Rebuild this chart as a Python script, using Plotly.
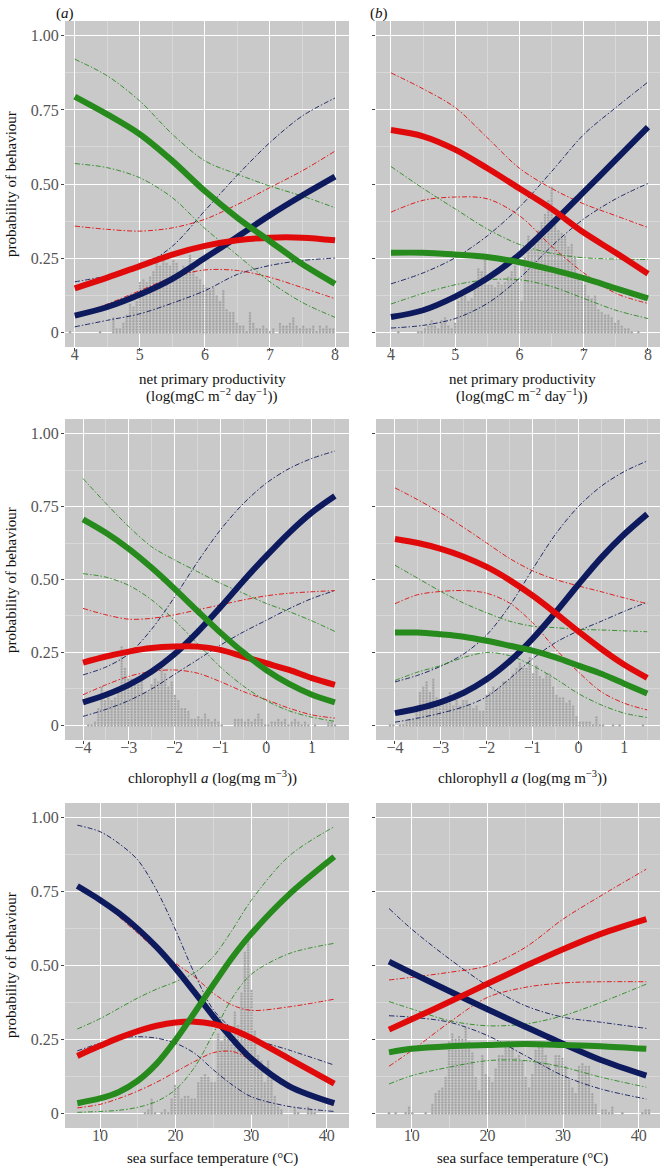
import plotly.graph_objects as go

W, H = 662, 1170

# ------------------------------------------------------------------ data
npp_x = [4, 4.5, 5, 5.5, 6, 6.5, 7, 7.5, 8]
chl_x = [-4, -3.5, -3, -2.5, -2, -1.5, -1, -0.5, 0, 0.5, 1, 1.5]
sst_a_x = [7, 10, 12.5, 15, 17.5, 20, 22.5, 25, 27.5, 30, 35, 41]
sst_b_x = [7, 10, 15, 20, 25, 30, 35, 41]

# panel (a), net primary productivity
a1_blue = [0.056, 0.085, 0.127, 0.18, 0.25, 0.322, 0.395, 0.462, 0.525]
a1_blue_hi = [0.17, 0.19, 0.22, 0.29, 0.41, 0.53, 0.64, 0.73, 0.79]
a1_blue_lo = [0.018, 0.04, 0.062, 0.098, 0.14, 0.195, 0.225, 0.242, 0.25]
a1_red = [0.148, 0.184, 0.223, 0.262, 0.291, 0.31, 0.319, 0.319, 0.31]
a1_red_hi = [0.358, 0.347, 0.341, 0.352, 0.381, 0.431, 0.488, 0.545, 0.611]
a1_red_lo = [0.055, 0.095, 0.14, 0.185, 0.21, 0.208, 0.185, 0.15, 0.113]
a1_green = [0.795, 0.735, 0.668, 0.578, 0.476, 0.386, 0.307, 0.229, 0.163]
a1_green_hi = [0.921, 0.865, 0.78, 0.668, 0.578, 0.533, 0.493, 0.459, 0.42]
a1_green_lo = [0.569, 0.555, 0.521, 0.454, 0.35, 0.26, 0.17, 0.1, 0.05]

# panel (b), net primary productivity
b1_blue = [0.051, 0.074, 0.12, 0.182, 0.262, 0.365, 0.473, 0.582, 0.692]
b1_blue_hi = [0.163, 0.2, 0.251, 0.325, 0.422, 0.542, 0.667, 0.758, 0.844]
b1_blue_lo = [0.014, 0.023, 0.046, 0.097, 0.182, 0.29, 0.382, 0.45, 0.502]
b1_red = [0.682, 0.661, 0.616, 0.553, 0.485, 0.416, 0.336, 0.268, 0.197]
b1_red_hi = [0.875, 0.821, 0.758, 0.656, 0.553, 0.485, 0.433, 0.393, 0.353]
b1_red_lo = [0.405, 0.445, 0.456, 0.45, 0.393, 0.29, 0.2, 0.131, 0.097]
b1_green = [0.268, 0.268, 0.262, 0.254, 0.236, 0.211, 0.182, 0.148, 0.114]
b1_green_hi = [0.559, 0.485, 0.416, 0.348, 0.296, 0.266, 0.251, 0.247, 0.245]
b1_green_lo = [0.095, 0.131, 0.16, 0.177, 0.177, 0.154, 0.114, 0.074, 0.046]

# panel (a), chlorophyll a
a2_blue = [0.079, 0.105, 0.139, 0.185, 0.245, 0.32, 0.405, 0.495, 0.58, 0.66, 0.73, 0.786]
a2_blue_hi = [0.173, 0.2, 0.245, 0.33, 0.44, 0.56, 0.67, 0.76, 0.83, 0.88, 0.915, 0.94]
a2_blue_lo = [0.031, 0.055, 0.085, 0.125, 0.175, 0.225, 0.275, 0.32, 0.36, 0.4, 0.435, 0.462]
a2_red = [0.215, 0.236, 0.253, 0.265, 0.27, 0.27, 0.259, 0.236, 0.213, 0.19, 0.162, 0.139]
a2_red_hi = [0.401, 0.379, 0.364, 0.367, 0.379, 0.396, 0.413, 0.43, 0.444, 0.453, 0.458, 0.462]
a2_red_lo = [0.105, 0.139, 0.168, 0.185, 0.19, 0.179, 0.15, 0.116, 0.088, 0.059, 0.036, 0.025]
a2_green = [0.706, 0.66, 0.605, 0.54, 0.468, 0.392, 0.318, 0.25, 0.19, 0.142, 0.105, 0.079]
a2_green_hi = [0.846, 0.761, 0.681, 0.612, 0.567, 0.527, 0.487, 0.453, 0.418, 0.39, 0.358, 0.322]
a2_green_lo = [0.52, 0.508, 0.48, 0.43, 0.36, 0.28, 0.2, 0.135, 0.085, 0.05, 0.028, 0.014]

# panel (b), chlorophyll a
b2_blue = [0.042, 0.058, 0.08, 0.112, 0.158, 0.22, 0.297, 0.387, 0.483, 0.575, 0.655, 0.724]
b2_blue_hi = [0.149, 0.172, 0.203, 0.245, 0.31, 0.41, 0.535, 0.655, 0.75, 0.82, 0.87, 0.906]
b2_blue_lo = [0.011, 0.025, 0.042, 0.064, 0.098, 0.16, 0.228, 0.284, 0.324, 0.357, 0.391, 0.422]
b2_red = [0.639, 0.625, 0.605, 0.578, 0.543, 0.498, 0.445, 0.385, 0.322, 0.262, 0.208, 0.163]
b2_red_hi = [0.814, 0.773, 0.728, 0.678, 0.625, 0.572, 0.53, 0.5, 0.478, 0.458, 0.437, 0.417]
b2_red_lo = [0.417, 0.448, 0.459, 0.462, 0.453, 0.419, 0.352, 0.262, 0.183, 0.115, 0.076, 0.053]
b2_green = [0.318, 0.318, 0.312, 0.304, 0.29, 0.273, 0.256, 0.233, 0.205, 0.177, 0.143, 0.109]
b2_green_hi = [0.549, 0.504, 0.459, 0.419, 0.386, 0.357, 0.34, 0.335, 0.329, 0.327, 0.324, 0.321]
b2_green_lo = [0.154, 0.183, 0.205, 0.233, 0.25, 0.239, 0.205, 0.16, 0.109, 0.07, 0.042, 0.027]

# panel (a), sea surface temperature
a3_blue = [0.769, 0.722, 0.677, 0.624, 0.562, 0.49, 0.41, 0.328, 0.252, 0.185, 0.092, 0.034]
a3_blue_hi = [0.975, 0.953, 0.913, 0.857, 0.755, 0.62, 0.473, 0.35, 0.287, 0.254, 0.214, 0.163]
a3_blue_lo = [0.211, 0.237, 0.254, 0.259, 0.254, 0.237, 0.203, 0.147, 0.096, 0.056, 0.023, 0.006]
a3_red = [0.194, 0.228, 0.255, 0.278, 0.296, 0.307, 0.31, 0.302, 0.283, 0.255, 0.185, 0.10]
a3_red_hi = [0.769, 0.722, 0.665, 0.609, 0.552, 0.507, 0.462, 0.406, 0.366, 0.348, 0.36, 0.386]
a3_red_lo = [0.018, 0.03, 0.05, 0.075, 0.105, 0.14, 0.175, 0.205, 0.209, 0.18, 0.101, 0.023]
a3_green = [0.034, 0.05, 0.072, 0.11, 0.168, 0.248, 0.34, 0.435, 0.527, 0.607, 0.74, 0.868]
a3_green_hi = [0.285, 0.32, 0.355, 0.39, 0.42, 0.445, 0.475, 0.53, 0.62, 0.72, 0.87, 0.97]
a3_green_lo = [0.003, 0.006, 0.01, 0.02, 0.04, 0.08, 0.155, 0.27, 0.39, 0.47, 0.54, 0.575]

# panel (b), sea surface temperature
b3_blue = [0.513, 0.475, 0.413, 0.352, 0.293, 0.235, 0.18, 0.127]
b3_blue_hi = [0.693, 0.623, 0.522, 0.432, 0.364, 0.325, 0.308, 0.287]
b3_blue_lo = [0.33, 0.325, 0.308, 0.263, 0.195, 0.127, 0.082, 0.048]
b3_red = [0.283, 0.318, 0.377, 0.438, 0.498, 0.555, 0.607, 0.657]
b3_red_hi = [0.451, 0.46, 0.477, 0.499, 0.561, 0.657, 0.736, 0.826]
b3_red_lo = [0.159, 0.212, 0.308, 0.392, 0.426, 0.441, 0.445, 0.445]
b3_green = [0.206, 0.218, 0.227, 0.231, 0.234, 0.231, 0.227, 0.218]
b3_green_hi = [0.378, 0.353, 0.313, 0.296, 0.302, 0.33, 0.375, 0.437]
b3_green_lo = [0.099, 0.127, 0.156, 0.178, 0.178, 0.156, 0.122, 0.088]

# stacked-dot histograms: first bin centre, bin width, dots per bin
a1_dot_start, a1_dot_step = 3.928, 0.0512
a1_dot_counts = [1, 0, 0, 0, 0, 0, 0, 0, 0, 1, 0, 0, 0,
                 6, 2, 2, 4, 7, 11, 10, 12, 19, 20, 19, 21, 23, 28, 25, 29, 26, 25, 27, 26,
                 22, 25, 22, 29, 24, 21, 20, 18, 17, 16, 17, 14, 12, 16, 9, 8, 8, 4, 3, 3,
                 1, 8, 4, 2, 2, 3, 2, 1, 2, 0, 4, 3, 3, 4, 6, 3, 2, 3, 2, 2, 3, 1, 3, 2, 3, 2, 2]
b1_dot_start, b1_dot_step = 4.114, 0.0519
b1_dot_counts = [1, 0, 0, 0, 0, 0, 1, 1, 2, 3, 5, 3, 2, 5, 6, 3, 2, 4, 12, 14, 14, 12, 13,
                 17, 24, 23, 27, 18, 18, 17, 19, 18, 19, 21, 23, 25, 19, 12, 28, 36, 31, 35,
                 38, 41, 44, 49, 54, 43, 38, 37, 36, 32, 33, 28, 22, 19, 18, 14, 13, 14, 9,
                 8, 7, 7, 6, 4, 5, 3, 2, 2, 1, 0, 1]
a2_dot_start, a2_dot_step = -3.884, 0.0728
a2_dot_counts = [1, 1, 2, 7, 15, 10, 11, 10, 11, 15, 30, 22, 18, 18, 17, 16, 17, 13, 13, 16,
                 18, 17, 23, 20, 15, 17, 12, 10, 7, 7, 6, 3, 3, 4, 3, 5, 3, 2, 3, 2, 1, 0, 0,
                 0, 3, 3, 3, 2, 3, 2, 3, 5, 3, 1, 1, 2, 2, 3, 2, 3, 1, 2, 3, 2, 1, 2, 1, 0, 1,
                 0, 0, 0, 2, 2, 1]
b2_dot_start, b2_dot_step = -4.109, 0.0726
b2_dot_counts = [1, 1, 0, 1, 1, 2, 3, 3, 6, 13, 15, 17, 13, 18, 11, 9, 10, 11, 13, 8, 10, 8,
                 10, 10, 8, 7, 8, 6, 6, 12, 13, 15, 14, 15, 17, 17, 18, 20, 22, 24, 22, 22,
                 26, 20, 23, 19, 18, 20, 20, 15, 12, 11, 11, 9, 10, 8, 4, 2, 2, 2, 2, 1, 4,
                 1, 1, 0, 0, 1, 0, 1, 0, 0, 0, 0, 0, 0, 1]
a3_dot_start, a3_dot_step = 15.95, 0.4405
a3_dot_counts = [1, 2, 6, 1, 0, 1, 2, 1, 6, 11, 10, 6, 7, 7, 6, 6, 12, 14, 15, 14, 12, 12,
                 30, 27, 29, 28, 26, 38, 33, 45, 60, 64, 46, 31, 22, 20, 12, 20, 13, 7, 3, 2,
                 0, 0, 0, 3, 1, 0, 0, 3, 2, 1]
b3_dot_start, b3_dot_step = 7.0, 0.4405
b3_dot_counts = [1, 0, 1, 0, 0, 1, 3, 1, 0, 0, 0, 1, 0, 4, 8, 9, 10, 14, 27, 30, 28, 29, 28,
                 32, 27, 23, 14, 9, 22, 15, 14, 12, 17, 22, 22, 25, 27, 25, 21, 22, 20, 14,
                 10, 15, 24, 25, 25, 22, 19, 16, 22, 22, 21, 18, 13, 10, 8, 18, 19, 18, 18,
                 8, 4, 0, 2, 2, 1, 3, 0, 0, 1, 0, 0, 0, 0, 0, 1, 2, 2]
dot_unit = 0.0092  # probability height of one stacked dot

x_tick_vals = {
    'npp': [4, 5, 6, 7, 8],
    'chl': [-4, -3, -2, -1, 0, 1],
    'sst': [10, 20, 30, 40],
}
x_tick_text = {
    'npp': ['4', '5', '6', '7', '8'],
    'chl': ['\u22124', '\u22123', '\u22122', '\u22121', '0', '1'],
    'sst': ['10', '20', '30', '40'],
}
x_minor_vals = {
    'npp': [3.5, 4.5, 5.5, 6.5, 7.5],
    'chl': [-4.5, -3.5, -2.5, -1.5, -0.5, 0.5, 1.5],
    'sst': [5, 15, 25, 35],
}
y_tick_vals = [0, 0.25, 0.5, 0.75, 1.0]
y_tick_text = ['0', '0.25', '0.50', '0.75', '1.00']
y_minor_vals = [0.125, 0.375, 0.625, 0.875]

# ------------------------------------------------------------------ style
NAVY = '#0e1a5e'
RED = '#e10a0a'
GREEN = '#268a1c'
BG = '#c9c9c9'
DOT = '#a5a5a5'
FONT = 'Liberation Serif'
CI_DASH = '5px,2px,1.5px,2px'

panels = [
    dict(kind='npp', x=npp_x, box=(65, 349, 21, 347), xr=(3.85, 8.215), left=True,
         blue=(a1_blue, a1_blue_lo, a1_blue_hi), red=(a1_red, a1_red_lo, a1_red_hi),
         green=(a1_green, a1_green_lo, a1_green_hi),
         dots=(a1_dot_start, a1_dot_step, a1_dot_counts)),
    dict(kind='npp', x=npp_x, box=(376, 660, 21, 347), xr=(3.767, 8.187), left=False,
         blue=(b1_blue, b1_blue_lo, b1_blue_hi), red=(b1_red, b1_red_lo, b1_red_hi),
         green=(b1_green, b1_green_lo, b1_green_hi),
         dots=(b1_dot_start, b1_dot_step, b1_dot_counts)),
    dict(kind='chl', x=chl_x, box=(65, 349, 419, 740), xr=(-4.393, 1.808), left=True,
         blue=(a2_blue, a2_blue_lo, a2_blue_hi), red=(a2_red, a2_red_lo, a2_red_hi),
         green=(a2_green, a2_green_lo, a2_green_hi),
         dots=(a2_dot_start, a2_dot_step, a2_dot_counts)),
    dict(kind='chl', x=chl_x, box=(376, 660, 419, 740), xr=(-4.414, 1.779), left=False,
         blue=(b2_blue, b2_blue_lo, b2_blue_hi), red=(b2_red, b2_red_lo, b2_red_hi),
         green=(b2_green, b2_green_lo, b2_green_hi),
         dots=(b2_dot_start, b2_dot_step, b2_dot_counts)),
    dict(kind='sst', x=sst_a_x, box=(65, 349, 803, 1128), xr=(5.369, 42.95), left=True,
         blue=(a3_blue, a3_blue_lo, a3_blue_hi), red=(a3_red, a3_red_lo, a3_red_hi),
         green=(a3_green, a3_green_lo, a3_green_hi),
         dots=(a3_dot_start, a3_dot_step, a3_dot_counts)),
    dict(kind='sst', x=sst_b_x, box=(376, 660, 803, 1128), xr=(5.282, 42.81), left=False,
         blue=(b3_blue, b3_blue_lo, b3_blue_hi), red=(b3_red, b3_red_lo, b3_red_hi),
         green=(b3_green, b3_green_lo, b3_green_hi),
         dots=(b3_dot_start, b3_dot_step, b3_dot_counts)),
]

fig = go.Figure()
layout = dict(
    width=W, height=H, margin=dict(l=0, r=0, t=0, b=0),
    paper_bgcolor='white', plot_bgcolor=BG, showlegend=False,
    font=dict(family=FONT, size=15, color='#111111'),
)

for i, p in enumerate(panels):
    n = '' if i == 0 else str(i + 1)
    xa, ya = 'x' + n, 'y' + n
    l, r, t, b = p['box']

    # stacked dots
    s0, st, counts = p['dots']
    dx, dy = [], []
    for j, c in enumerate(counts):
        for k in range(c):
            dx.append(s0 + j * st)
            dy.append(k * dot_unit)
    fig.add_trace(go.Scatter(x=dx, y=dy, mode='markers', xaxis=xa, yaxis=ya,
                             marker=dict(color=DOT, size=2.4, line=dict(width=0)),
                             hoverinfo='skip'))

    # confidence bands (dot-dash)
    for key, col in (('blue', NAVY), ('red', RED), ('green', GREEN)):
        mean, lo, hi = p[key]
        for arr in (lo, hi):
            fig.add_trace(go.Scatter(x=p['x'], y=arr, mode='lines', xaxis=xa, yaxis=ya,
                                     line=dict(color=col, width=0.9, dash=CI_DASH,
                                               shape='spline', smoothing=0.9),
                                     hoverinfo='skip'))
    # fitted curves
    for key, col in (('blue', NAVY), ('red', RED), ('green', GREEN)):
        mean = p[key][0]
        fig.add_trace(go.Scatter(x=p['x'], y=mean, mode='lines', xaxis=xa, yaxis=ya,
                                 line=dict(color=col, width=6, shape='spline', smoothing=0.9),
                                 hoverinfo='skip'))

    k = p['kind']
    layout['xaxis' + n] = dict(
        domain=[l / W, r / W], anchor=ya, range=list(p['xr']),
        tickvals=x_tick_vals[k], ticktext=x_tick_text[k],
        showgrid=True, gridcolor='white', gridwidth=1.2, zeroline=False,
        ticks='outside', ticklen=3, tickwidth=0.8, tickcolor='#444444',
        ticklabelstandoff=-10,
        tickfont=dict(family=FONT, size=16, color='#555555'),
        showline=False,
        minor=dict(tickvals=x_minor_vals[k], showgrid=True, gridcolor='#d8d8d8',
                   gridwidth=0.6, ticks=''),
    )
    layout['yaxis' + n] = dict(
        domain=[1 - b / H, 1 - t / H], anchor=xa, range=[-0.05, 1.05],
        tickvals=y_tick_vals, ticktext=y_tick_text, showticklabels=p['left'],
        showgrid=True, gridcolor='white', gridwidth=1.2, zeroline=False,
        ticks='outside', ticklen=3, tickwidth=0.8, tickcolor='#444444',
        ticklabelstandoff=-1,
        tickfont=dict(family=FONT, size=16, color='#555555'),
        showline=False,
        minor=dict(tickvals=y_minor_vals, showgrid=True, gridcolor='#d8d8d8',
                   gridwidth=0.6, ticks=''),
    )

fig.update_layout(**layout)

ann = []


def text(x, y, s, size=15, angle=0, xanchor='center'):
    ann.append(dict(x=x / W, y=1 - y / H, xref='paper', yref='paper', text=s,
                    showarrow=False, textangle=angle, xanchor=xanchor, yanchor='middle',
                    font=dict(family=FONT, size=size, color='#111111')))


text(65, 14, '(<i>a</i>)')
text(379, 14, '(<i>b</i>)')
for cx in (212, 522):
    text(cx, 379, 'net primary productivity')
    text(cx, 395, '(log(mgC m<sup>\u22122</sup> day<sup>\u22121</sup>))')
    text(cx, 777, 'chlorophyll <i>a</i> (log(mg m<sup>\u22123</sup>))')
    text(cx, 1158, 'sea surface temperature (\u00b0C)')
for cy in (184, 580, 965):
    text(11, cy, 'probability of behaviour', angle=-90)

fig.update_layout(annotations=ann)
fig.write_html('out.html', config={'displayModeBar': False},
               post_script="document.body.style.margin='0';")
